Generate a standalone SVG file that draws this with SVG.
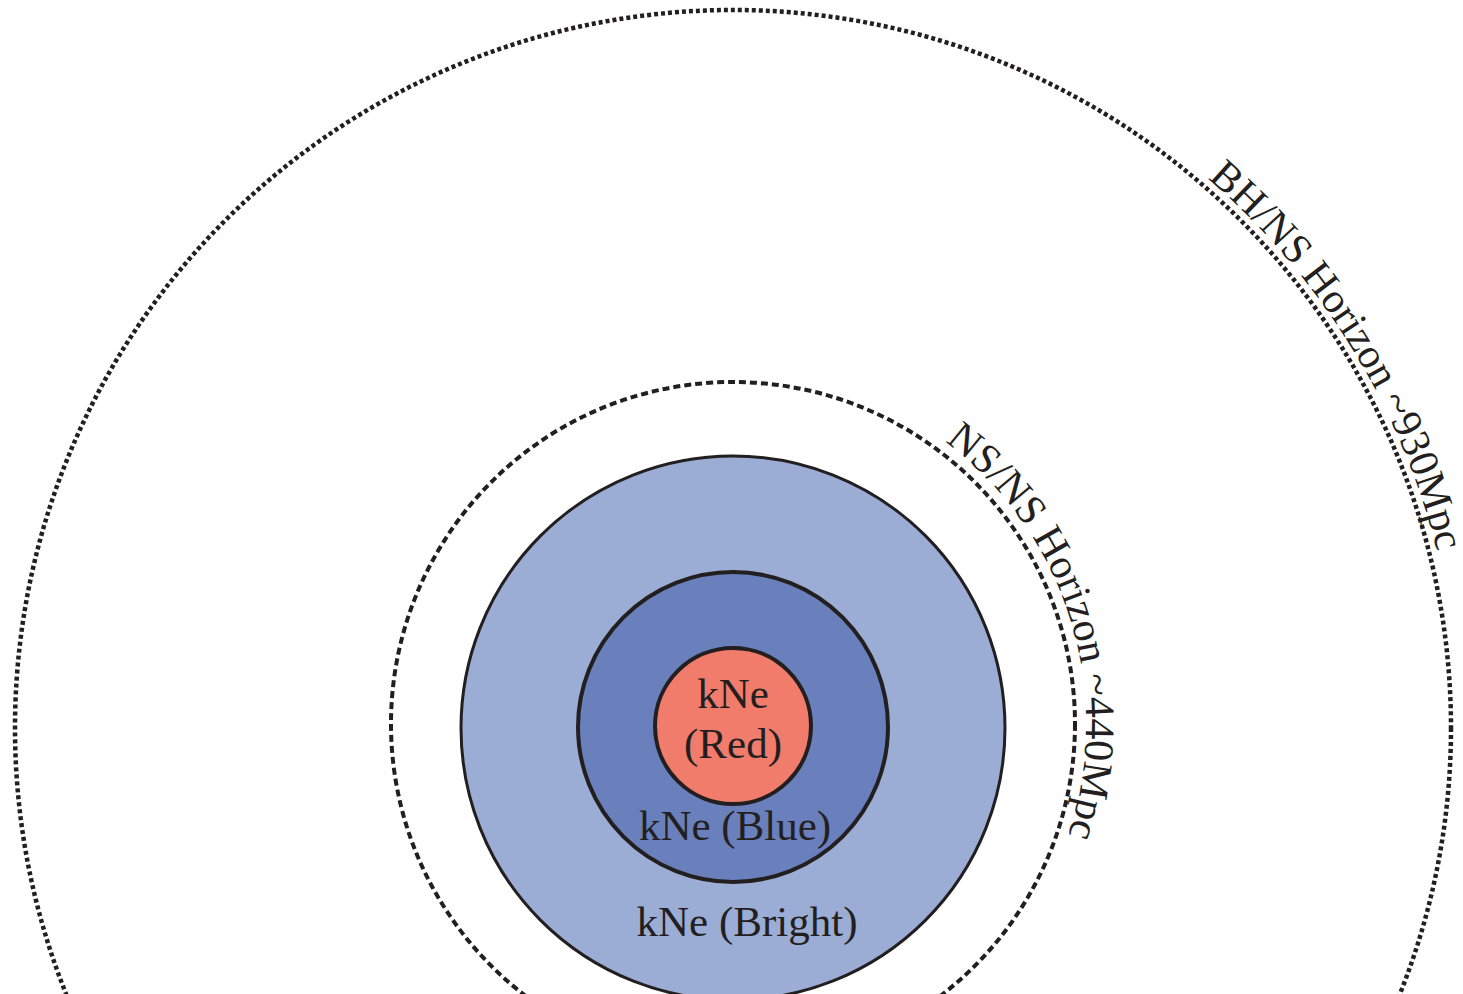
<svg xmlns="http://www.w3.org/2000/svg" width="1463" height="994" viewBox="0 0 1463 994">
<style>
.lbl{font-family:"Liberation Serif","Times New Roman",serif;fill:#231f20;}
.ring{stroke:#231f20;}
</style>
<defs>
<path id="outerArc" d="M 733 2 A 726 726 0 1 1 733 1454 A 726 726 0 1 1 733 2"/>
<path id="nsArc" d="M 733 371 A 353 353 0 1 1 733 1077 A 353 353 0 1 1 733 371"/>
</defs>
<rect width="1463" height="994" fill="#ffffff"/>
<g id="bhns-horizon">
<circle cx="733" cy="728" r="718" fill="none" class="ring" stroke-width="4.5" stroke-dasharray="4 3"/>
<text class="lbl" font-size="42"><textPath href="#outerArc" startOffset="517">BH/NS Horizon ~930Mpc</textPath></text>
</g>
<g id="nsns-horizon">
<circle cx="733" cy="724" r="342" fill="none" class="ring" stroke-width="4" stroke-dasharray="7 4"/>
<text class="lbl" font-size="42"><textPath href="#nsArc" startOffset="227">NS/NS Horizon ~440Mpc</textPath></text>
</g>
<g id="kne-bright">
<circle cx="733" cy="728" r="272" fill="#9badd4" class="ring" stroke-width="3"/>
<text class="lbl" font-size="43" x="747" y="936" text-anchor="middle">kNe (Bright)</text>
</g>
<g id="kne-blue">
<circle cx="733" cy="727" r="155" fill="#6a80bd" class="ring" stroke-width="4"/>
<text class="lbl" font-size="43" x="735" y="840" text-anchor="middle">kNe (Blue)</text>
</g>
<g id="kne-red">
<circle cx="733" cy="726" r="78" fill="#f27c6c" class="ring" stroke-width="4"/>
<text class="lbl" font-size="43" x="733" y="708" text-anchor="middle">kNe</text>
<text class="lbl" font-size="43" x="733" y="758" text-anchor="middle">(Red)</text>
</g>
<g id="connectors"></g>
</svg>
